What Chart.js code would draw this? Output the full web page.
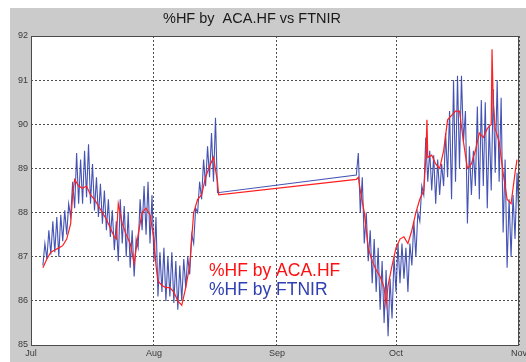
<!DOCTYPE html>
<html>
<head>
<meta charset="utf-8">
<script src="https://cdn.jsdelivr.net/npm/chart.js@4"></script>
<style>
html,body{margin:0;padding:0;background:#fff;}
#wrap{position:relative;width:526px;height:362px;}
</style>
</head>
<body>
<div id="wrap"><canvas id="c" width="526" height="362"></canvas></div>
<script>
// ---- data (x in days since 1 Jul) ----
const titleText = '%HF by  ACA.HF vs FTNIR';
const monthLabels = ['Jul', 'Aug', 'Sep', 'Oct', 'Nov'];
const monthDays = [0, 31, 62, 92, 123];

const acaLabel = '%HF by ACA.HF';
const acaDays = [3,4,5,6,7,8,9,10,10.5,11,12,13,14,15,16,17,18,19,20,21,21.5,22,23,24,25,26,27,28,29,30,31,31.5,32,33,34,35,36,37,38,39,40,40.5,41,42,43,44,45,46,47,47.3,
  82,82.5,83,84,85,86,87,88,89,89.5,90,91,92,93,94,95,96,97,98,99,99.5,99.8,100,101,102,103,104,105,106,107,108,109,110,111,112,113,114,115,116,116.2,116.5,117,118,119,120,121,122,122.5];
const acaHF = [86.75,86.95,87.1,87.15,87.2,87.25,87.4,87.75,88.4,88.75,88.6,88.55,88.6,88.4,88.3,88.15,88.0,87.85,87.65,87.45,87.4,88.2,87.75,87.5,87.3,86.85,87.5,88.0,88.1,87.95,87.4,86.8,86.45,86.35,86.3,86.3,86.2,86.0,85.9,86.3,86.8,87.4,88.0,88.3,88.4,88.8,89.05,89.25,88.7,88.4,
  88.75,88.8,88.5,88.0,87.2,86.9,86.7,86.55,86.3,85.9,86.35,86.8,87.2,87.4,87.45,87.3,87.6,88.0,88.3,88.5,89.2,90.1,89.25,89.3,89.1,89.0,89.4,90.1,90.2,90.3,90.3,89.6,89.0,89.1,89.4,89.8,89.7,89.9,90.0,91.7,90.5,89.9,89.6,88.9,88.3,88.2,88.9,89.2];

const ftnirLabel = '%HF by FTNIR';
const ftnirStart1 = 3, ftnirStart2 = 82, ftnirStep = 0.5;
const ftnirHF1 = [86.8,87.3, 86.95,87.6, 87.05,87.8, 87.1,87.9, 87.0,87.95, 87.35,88.05, 87.5,88.2, 87.9,88.7, 88.1,89.35, 88.2,89.2,
  88.2,89.4, 88.35,89.55, 88.2,89.1, 88.05,88.8, 87.9,88.65, 87.75,88.5, 87.6,88.3, 87.45,88.05, 87.15,87.8, 86.9,88.3,
  87.3,88.15, 87.0,88.0, 86.75,87.6, 86.55,87.4, 87.2,88.3, 87.6,88.6, 87.5,88.7, 87.3,88.4, 86.9,87.9, 86.1,87.1,
  86.2,87.2, 86.0,87.0, 86.1,87.1, 85.95,86.9, 85.8,86.8, 86.0,86.95, 86.3,87.0, 86.6,87.5, 87.3,88.1, 88.0,88.7,
  88.3,89.2, 88.6,89.5, 88.8,89.8, 88.7,90.15, 88.45];
const ftnirHF2 = [88.85,89.35, 88.0,88.8, 87.3,88.0, 86.9,87.6, 86.4,87.4, 86.2,87.2, 85.8,86.9, 85.5,86.7, 85.2,86.5,
  85.6,87.0, 86.2,87.3, 86.4,87.3, 86.5,87.2, 86.2,87.3, 86.8,87.8, 87.0,88.0, 87.8,88.6, 88.4,89.7, 88.7,89.4,
  88.5,89.3, 88.2,89.2, 88.4,89.1, 88.6,89.8, 88.8,90.3, 88.3,91.0, 88.7,91.1, 89.0,91.1, 89.6,90.3, 87.75,89.5,
  88.4,89.4, 88.6,90.4, 88.3,90.55, 88.6,90.5, 88.1,90.0, 88.5,90.8, 88.9,91.0, 88.7,90.6, 87.55,89.2, 86.75,88.3,
  87.0,88.4, 87.4,88.9, 87.8];

const yMin = 85, yMax = 92;

// ---- build datasets ----
const acaPts = acaDays.map((d, i) => ({x: d, y: acaHF[i]}));
const ftnirPts = ftnirHF1.map((v, i) => ({x: ftnirStart1 + i * ftnirStep, y: v}))
  .concat(ftnirHF2.map((v, i) => ({x: ftnirStart2 + i * ftnirStep, y: v})));

const RED = '#ff1f1f';
const BLUE = 'rgba(48,64,172,0.9)';

const framePlugin = {
  id: 'frame',
  beforeDraw(chart) {
    const ctx = chart.ctx, a = chart.chartArea;
    ctx.save();
    ctx.fillStyle = '#fff';
    ctx.fillRect(0, 0, chart.width, chart.height);
    ctx.fillStyle = '#cbcbcb';
    ctx.fillRect(10, 8, chart.width - 10, chart.height - 8);
    ctx.fillStyle = '#fff';
    ctx.fillRect(a.left, a.top, a.right - a.left, a.bottom - a.top);
    ctx.fillStyle = '#1a1a1a';
    ctx.font = '14.5px "Liberation Sans", Arial, sans-serif';
    ctx.textAlign = 'center';
    ctx.textBaseline = 'middle';
    ctx.fillText(titleText, 252, 19);
    ctx.restore();
  },
  afterDraw(chart) {
    const ctx = chart.ctx, a = chart.chartArea;
    ctx.save();
    ctx.strokeStyle = '#4a4a4a';
    ctx.lineWidth = 1;
    ctx.strokeRect(a.left + 0.5, a.top + 0.5, a.right - a.left - 1, a.bottom - a.top);
    // in-plot legend text
    ctx.font = '17.5px "Liberation Sans", Arial, sans-serif';
    ctx.textAlign = 'left';
    ctx.textBaseline = 'middle';
    chart.data.datasets.forEach((ds, i) => {
      ctx.fillStyle = ds.legendColor;
      ctx.fillText(ds.label, 209, 271 + i * 19);
    });
    ctx.restore();
  }
};

new Chart(document.getElementById('c'), {
  type: 'line',
  data: {
    datasets: [
      {label: acaLabel, data: acaPts, borderColor: RED, legendColor: '#ff1010', borderWidth: 1.2, pointRadius: 0, tension: 0},
      {label: ftnirLabel, data: ftnirPts, borderColor: BLUE, legendColor: '#3040b0', borderWidth: 1.1, pointRadius: 0, tension: 0}
    ]
  },
  options: {
    responsive: false,
    animation: false,
    layout: {padding: {left: 0, top: 36, right: 7, bottom: 0}, autoPadding: false},
    plugins: {legend: {display: false}, title: {display: false}, tooltip: {enabled: false}},
    scales: {
      x: {
        type: 'linear', min: 0, max: 123,
        afterBuildTicks(s) { s.ticks = monthDays.map(v => ({value: v})); },
        afterFit(s) { s.height = 17; s.paddingLeft = 0; s.paddingRight = 0; },
        ticks: {
          autoSkip: false, maxRotation: 0, padding: 3,
          color: '#3a3a3a', font: {size: 9, family: '"Liberation Sans", Arial, sans-serif'},
          callback(v) { const i = monthDays.indexOf(v); return i >= 0 ? monthLabels[i] : ''; }
        },
        grid: {color: '#505050', lineWidth: 1, drawTicks: false},
        border: {display: false, dash: [2, 2]}
      },
      y: {
        min: yMin, max: yMax,
        afterFit(s) { s.width = 31; s.paddingTop = 0; s.paddingBottom = 0; },
        ticks: {
          stepSize: 1, padding: 3,
          color: '#3a3a3a', font: {size: 9, family: '"Liberation Sans", Arial, sans-serif'}
        },
        grid: {color: '#505050', lineWidth: 1, drawTicks: false},
        border: {display: false, dash: [2, 2]}
      }
    }
  },
  plugins: [framePlugin]
});
</script>
</body>
</html>
